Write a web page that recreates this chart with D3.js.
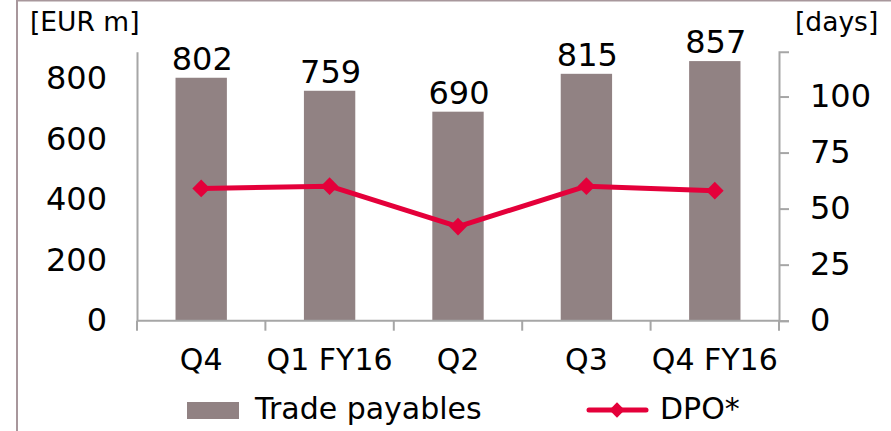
<!DOCTYPE html>
<html>
<head>
<meta charset="utf-8">
<script src="https://cdn.jsdelivr.net/npm/d3@7"></script>
<style>
  html, body { margin: 0; padding: 0; background: #fff; }
  svg { display: block; font-family: "DejaVu Sans", Verdana, sans-serif; }
</style>
</head>
<body>
<svg id="chart" width="891" height="431"></svg>
<script>
// Quarterly trade payables (EUR m) and days payable outstanding
const categories = ["Q4", "Q1 FY16", "Q2", "Q3", "Q4 FY16"];
const tradePayables = [802, 759, 690, 815, 857];
const dpoDays = [59, 60, 42, 60, 58];
const leftTicks = [0, 200, 400, 600, 800];
const rightTicks = [0, 25, 50, 75, 100];

const barColor = "#918283";
const lineColor = "#e4003a";
const axisColor = "#a6a6a6";
const frameColor = "#a8979c";
const numberSize = 32;
const labelSize = 30;

const svg = d3.select("#chart");

// outer frame (top and left edges are inside the view)
svg.append("rect")
  .attr("x", 17).attr("y", 0.5)
  .attr("width", 900).attr("height", 460)
  .attr("fill", "none").attr("stroke", frameColor).attr("stroke-width", 2);

const plot = { left: 137, right: 779, top: 51.7, bottom: 320.7 };

const x = d3.scaleBand().domain(categories)
  .range([plot.left, plot.right])
  .paddingInner(0.6).paddingOuter(0.3);
const yL = d3.scaleLinear().domain([0, 888]).range([plot.bottom, plot.top]);
const yR = d3.scaleLinear().domain([0, 120]).range([plot.bottom, plot.top]);

// bars
svg.append("g").selectAll("rect").data(tradePayables).join("rect")
  .attr("x", (d, i) => x(categories[i]))
  .attr("y", d => yL(d))
  .attr("width", x.bandwidth())
  .attr("height", d => yL(0) - yL(d))
  .attr("fill", barColor);

// value labels above the bars
svg.append("g").selectAll("text").data(tradePayables).join("text")
  .attr("x", (d, i) => x(categories[i]) + x.bandwidth() / 2 + 1)
  .attr("y", d => yL(d) - 8)
  .attr("text-anchor", "middle")
  .attr("font-size", numberSize)
  .attr("fill", "#000")
  .text(d => d);

// left axis
const gL = svg.append("g").attr("transform", `translate(${plot.left},0)`)
  .call(d3.axisLeft(yL).tickValues(leftTicks).tickSize(0).tickPadding(30));
gL.select(".domain").attr("stroke", axisColor).attr("stroke-width", 2);
gL.selectAll("text").attr("font-size", numberSize).attr("fill", "#000")
  .attr("font-family", "DejaVu Sans, Verdana, sans-serif");

// right axis
const gR = svg.append("g").attr("transform", `translate(${plot.right},0)`)
  .call(d3.axisRight(yR).tickValues(rightTicks).tickSize(10).tickPadding(21));
gR.select(".domain").attr("stroke", axisColor).attr("stroke-width", 2);
gR.selectAll(".tick line").attr("stroke", axisColor).attr("stroke-width", 2);
gR.selectAll("text").attr("font-size", numberSize).attr("fill", "#000")
  .attr("font-family", "DejaVu Sans, Verdana, sans-serif");

// category axis with ticks on category boundaries
const step = x.step();
const boundaries = d3.range(categories.length + 1).map(i => plot.left + i * step);
const gX = svg.append("g");
gX.append("line")
  .attr("x1", plot.left).attr("x2", plot.right)
  .attr("y1", plot.bottom).attr("y2", plot.bottom)
  .attr("stroke", axisColor).attr("stroke-width", 2);
gX.selectAll("line.tk").data(boundaries).join("line").attr("class", "tk")
  .attr("x1", d => d).attr("x2", d => d)
  .attr("y1", plot.bottom).attr("y2", plot.bottom + 10)
  .attr("stroke", axisColor).attr("stroke-width", 2);
gX.selectAll("text").data(categories).join("text")
  .attr("x", d => x(d) + x.bandwidth() / 2)
  .attr("y", 370)
  .attr("text-anchor", "middle")
  .attr("font-size", labelSize)
  .text(d => d);

// DPO line with diamond markers
const line = d3.line()
  .x((d, i) => x(categories[i]) + x.bandwidth() / 2)
  .y(d => yR(d));
svg.append("path").datum(dpoDays)
  .attr("d", line)
  .attr("fill", "none")
  .attr("stroke", lineColor)
  .attr("stroke-width", 5)
  .attr("stroke-linejoin", "round");
const diamond = d3.symbol().type(d3.symbolDiamond2).size(200);
svg.append("g").selectAll("path").data(dpoDays).join("path")
  .attr("transform", (d, i) => `translate(${x(categories[i]) + x.bandwidth() / 2},${yR(d)})`)
  .attr("d", diamond)
  .attr("fill", lineColor);

// unit labels
svg.append("text").attr("x", 30).attr("y", 31).attr("font-size", 26.5).text("[EUR m]");
svg.append("text").attr("x", 795).attr("y", 31).attr("font-size", 26.5).text("[days]");

// legend
svg.append("rect").attr("x", 187).attr("y", 402).attr("width", 52).attr("height", 17).attr("fill", barColor);
svg.append("text").attr("x", 255).attr("y", 419).attr("font-size", labelSize).text("Trade payables");
svg.append("line").attr("x1", 589).attr("x2", 646).attr("y1", 410).attr("y2", 410)
  .attr("stroke", lineColor).attr("stroke-width", 5).attr("stroke-linecap", "round");
svg.append("path").attr("transform", "translate(617,410)")
  .attr("d", d3.symbol().type(d3.symbolDiamond2).size(150)).attr("fill", lineColor);
svg.append("text").attr("x", 660).attr("y", 419).attr("font-size", labelSize).text("DPO*");
</script>
</body>
</html>
